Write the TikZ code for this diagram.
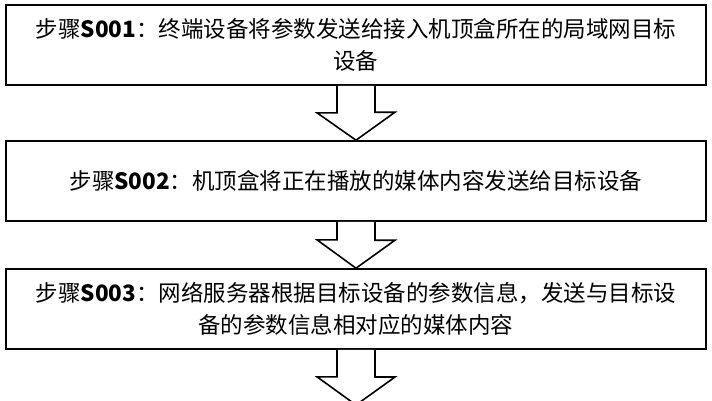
\documentclass[tikz,border=0pt]{standalone}
\usepackage{fontspec}
\newfontfamily\cjk{Noto Sans CJK SC}
\begin{document}
\begin{tikzpicture}[x=1pt,y=-1pt,
  stepbox/.style={draw,line width=1.6pt,minimum width=700pt,minimum height=80pt,align=center,font=\cjk\fontsize{22.5}{32}\selectfont,text width=694pt,inner xsep=1pt},
  harrow/.style={draw,line width=1.6pt,fill=white,line join=miter}]
\useasboundingbox (0,0) rectangle (712,400);
\node[stepbox] (b1) at (356,45) {步骤\textbf{S001}：终端设备将参数发送给接入机顶盒所在的局域网目标\\设备};
\node[stepbox] (b2) at (356,181) {步骤\textbf{S002}：机顶盒将正在播放的媒体内容发送给目标设备};
\node[stepbox] (b3) at (356,309) {步骤\textbf{S003}：网络服务器根据目标设备的参数信息，发送与目标设\\备的参数信息相对应的媒体内容};
\coordinate (e) at (356,405);
\draw[harrow] ([xshift=-19pt]b1.south) -- ++(0,27) -- ++(-20,0) -- (b2.north) -- ++(39,-28) -- ++(-20,0) -- ([xshift=19pt]b1.south);
\draw[harrow] ([xshift=-19pt]b2.south) -- ++(0,18) -- ++(-20,0) -- (b3.north) -- ++(39,-28) -- ++(-20,0) -- ([xshift=19pt]b2.south);
\draw[harrow] ([xshift=-19pt]b3.south) -- ++(0,27) -- ++(-20,0) -- (e) -- ++(39,-28) -- ++(-20,0) -- ([xshift=19pt]b3.south);
\end{tikzpicture}
\end{document}
